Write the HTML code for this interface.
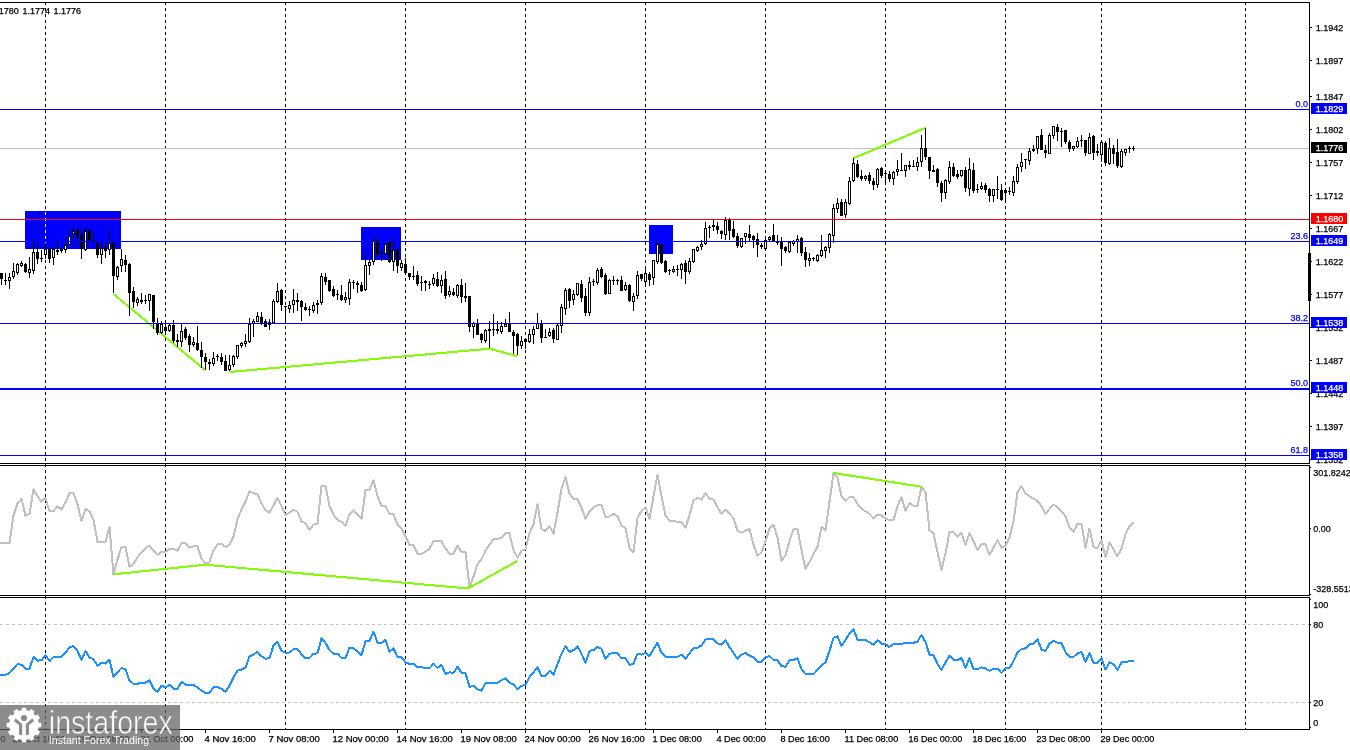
<!DOCTYPE html>
<html><head><meta charset="utf-8"><title>EURUSD H4</title>
<style>html,body{margin:0;padding:0;background:#fff;overflow:hidden}svg{display:block}text{font-family:"Liberation Sans",sans-serif;font-size:9px;fill:#000;stroke:#000;stroke-width:0.25px}.w{fill:#fff;stroke:#fff}.bl{fill:#00f;stroke:#00f}</style></head><body>
<svg width="1350" height="750" viewBox="0 0 1350 750">
<rect width="1350" height="750" fill="#fff"/>
<g shape-rendering="crispEdges">
<rect x="25" y="211" width="96" height="38" fill="#0000ff"/>
<rect x="361" y="227" width="40" height="33" fill="#0000ff"/>
<rect x="649" y="225" width="24" height="29" fill="#0000ff"/>
<line x1="45.5" y1="2" x2="45.5" y2="729" stroke="#000" stroke-width="1" stroke-dasharray="3 3"/>
<line x1="165.5" y1="2" x2="165.5" y2="729" stroke="#000" stroke-width="1" stroke-dasharray="3 3"/>
<line x1="285.5" y1="2" x2="285.5" y2="729" stroke="#000" stroke-width="1" stroke-dasharray="3 3"/>
<line x1="405.5" y1="2" x2="405.5" y2="729" stroke="#000" stroke-width="1" stroke-dasharray="3 3"/>
<line x1="525.5" y1="2" x2="525.5" y2="729" stroke="#000" stroke-width="1" stroke-dasharray="3 3"/>
<line x1="645.5" y1="2" x2="645.5" y2="729" stroke="#000" stroke-width="1" stroke-dasharray="3 3"/>
<line x1="765.5" y1="2" x2="765.5" y2="729" stroke="#000" stroke-width="1" stroke-dasharray="3 3"/>
<line x1="885.5" y1="2" x2="885.5" y2="729" stroke="#000" stroke-width="1" stroke-dasharray="3 3"/>
<line x1="1005.5" y1="2" x2="1005.5" y2="729" stroke="#000" stroke-width="1" stroke-dasharray="3 3"/>
<line x1="1101.5" y1="2" x2="1101.5" y2="729" stroke="#000" stroke-width="1" stroke-dasharray="3 3"/>
<line x1="1245.5" y1="2" x2="1245.5" y2="729" stroke="#000" stroke-width="1" stroke-dasharray="3 3"/>
<rect x="45" y="212" width="1" height="1" fill="#ffff00"/>
<rect x="45" y="213" width="1" height="1" fill="#ffff00"/>
<rect x="45" y="214" width="1" height="1" fill="#ffff00"/>
<rect x="45" y="218" width="1" height="1" fill="#ffff00"/>
<rect x="45" y="219" width="1" height="1" fill="#ffff00"/>
<rect x="45" y="220" width="1" height="1" fill="#ffff00"/>
<rect x="45" y="224" width="1" height="1" fill="#ffff00"/>
<rect x="45" y="225" width="1" height="1" fill="#ffff00"/>
<rect x="45" y="226" width="1" height="1" fill="#ffff00"/>
<rect x="45" y="230" width="1" height="1" fill="#ffff00"/>
<rect x="45" y="231" width="1" height="1" fill="#ffff00"/>
<rect x="45" y="232" width="1" height="1" fill="#ffff00"/>
<rect x="45" y="236" width="1" height="1" fill="#ffff00"/>
<rect x="45" y="237" width="1" height="1" fill="#ffff00"/>
<rect x="45" y="238" width="1" height="1" fill="#ffff00"/>
<rect x="45" y="242" width="1" height="1" fill="#ffff00"/>
<rect x="45" y="243" width="1" height="1" fill="#ffff00"/>
<rect x="45" y="244" width="1" height="1" fill="#ffff00"/>
<rect x="45" y="248" width="1" height="1" fill="#ffff00"/>
<line x1="0" y1="624.5" x2="1309" y2="624.5" stroke="#c0c0c0" stroke-width="1" stroke-dasharray="3 3"/>
<line x1="0" y1="702.5" x2="1309" y2="702.5" stroke="#c0c0c0" stroke-width="1" stroke-dasharray="3 3"/>
<rect x="0" y="148" width="1309" height="1" fill="#c0c0c0"/>
</g>
<polyline points="113.5,294 205,370" fill="none" stroke="#7fff00" stroke-width="2" shape-rendering="crispEdges"/>
<polyline points="229.5,372 489.5,348.7 517.5,356.3" fill="none" stroke="#7fff00" stroke-width="2" shape-rendering="crispEdges"/>
<polyline points="853.4,158.3 925.7,127.7" fill="none" stroke="#7fff00" stroke-width="2" shape-rendering="crispEdges"/>
<g shape-rendering="crispEdges">
<rect x="1" y="273" width="1" height="12" fill="#000"/>
<rect x="0" y="273" width="3" height="6" fill="#000"/>
<rect x="5" y="273" width="1" height="12" fill="#000"/>
<rect x="4" y="280" width="3" height="1" fill="#000"/>
<rect x="9" y="273" width="1" height="16" fill="#000"/>
<rect x="8" y="277" width="3" height="4" fill="#000"/>
<rect x="9" y="278" width="1" height="2" fill="#fff"/>
<rect x="13" y="263" width="1" height="16" fill="#000"/>
<rect x="12" y="271" width="3" height="6" fill="#000"/>
<rect x="13" y="272" width="1" height="4" fill="#fff"/>
<rect x="17" y="263" width="1" height="12" fill="#000"/>
<rect x="16" y="264" width="3" height="9" fill="#000"/>
<rect x="17" y="265" width="1" height="7" fill="#fff"/>
<rect x="21" y="261" width="1" height="6" fill="#000"/>
<rect x="20" y="263" width="3" height="3" fill="#000"/>
<rect x="21" y="264" width="1" height="1" fill="#fff"/>
<rect x="25" y="263" width="1" height="10" fill="#000"/>
<rect x="24" y="264" width="3" height="8" fill="#000"/>
<rect x="29" y="257" width="1" height="21" fill="#000"/>
<rect x="28" y="269" width="3" height="4" fill="#000"/>
<rect x="29" y="270" width="1" height="2" fill="#fff"/>
<rect x="33" y="238" width="1" height="36" fill="#000"/>
<rect x="32" y="252" width="3" height="19" fill="#000"/>
<rect x="33" y="253" width="1" height="17" fill="#fff"/>
<rect x="37" y="245" width="1" height="19" fill="#000"/>
<rect x="36" y="252" width="3" height="7" fill="#000"/>
<rect x="41" y="250" width="1" height="12" fill="#000"/>
<rect x="40" y="258" width="3" height="1" fill="#000"/>
<rect x="45" y="243" width="1" height="16" fill="#000"/>
<rect x="44" y="249" width="3" height="6" fill="#000"/>
<rect x="45" y="250" width="1" height="4" fill="#fff"/>
<rect x="49" y="248" width="1" height="15" fill="#000"/>
<rect x="48" y="249" width="3" height="10" fill="#000"/>
<rect x="53" y="247" width="1" height="18" fill="#000"/>
<rect x="52" y="249" width="3" height="9" fill="#000"/>
<rect x="53" y="250" width="1" height="7" fill="#fff"/>
<rect x="57" y="239" width="1" height="16" fill="#000"/>
<rect x="56" y="250" width="3" height="2" fill="#000"/>
<rect x="61" y="246" width="1" height="7" fill="#000"/>
<rect x="60" y="249" width="3" height="2" fill="#000"/>
<rect x="65" y="239" width="1" height="14" fill="#000"/>
<rect x="64" y="245" width="3" height="5" fill="#000"/>
<rect x="65" y="246" width="1" height="3" fill="#fff"/>
<rect x="69" y="230" width="1" height="15" fill="#000"/>
<rect x="68" y="236" width="3" height="9" fill="#000"/>
<rect x="69" y="237" width="1" height="7" fill="#fff"/>
<rect x="73" y="227" width="1" height="12" fill="#000"/>
<rect x="72" y="231" width="3" height="3" fill="#000"/>
<rect x="73" y="232" width="1" height="1" fill="#fff"/>
<rect x="77" y="228" width="1" height="17" fill="#000"/>
<rect x="76" y="230" width="3" height="7" fill="#000"/>
<rect x="81" y="229" width="1" height="30" fill="#000"/>
<rect x="80" y="235" width="3" height="14" fill="#000"/>
<rect x="85" y="227" width="1" height="24" fill="#000"/>
<rect x="84" y="231" width="3" height="19" fill="#000"/>
<rect x="85" y="232" width="1" height="17" fill="#fff"/>
<rect x="89" y="229" width="1" height="12" fill="#000"/>
<rect x="88" y="230" width="3" height="10" fill="#000"/>
<rect x="93" y="233" width="1" height="10" fill="#000"/>
<rect x="92" y="240" width="3" height="1" fill="#000"/>
<rect x="97" y="242" width="1" height="16" fill="#000"/>
<rect x="96" y="243" width="3" height="12" fill="#000"/>
<rect x="101" y="242" width="1" height="22" fill="#000"/>
<rect x="100" y="248" width="3" height="7" fill="#000"/>
<rect x="101" y="249" width="1" height="5" fill="#fff"/>
<rect x="105" y="242" width="1" height="16" fill="#000"/>
<rect x="104" y="247" width="3" height="4" fill="#000"/>
<rect x="109" y="229" width="1" height="26" fill="#000"/>
<rect x="108" y="243" width="3" height="7" fill="#000"/>
<rect x="109" y="244" width="1" height="5" fill="#fff"/>
<rect x="113" y="240" width="1" height="53" fill="#000"/>
<rect x="112" y="243" width="3" height="33" fill="#000"/>
<rect x="117" y="266" width="1" height="14" fill="#000"/>
<rect x="116" y="267" width="3" height="10" fill="#000"/>
<rect x="117" y="268" width="1" height="8" fill="#fff"/>
<rect x="121" y="249" width="1" height="23" fill="#000"/>
<rect x="120" y="259" width="3" height="7" fill="#000"/>
<rect x="121" y="260" width="1" height="5" fill="#fff"/>
<rect x="125" y="255" width="1" height="17" fill="#000"/>
<rect x="124" y="260" width="3" height="5" fill="#000"/>
<rect x="129" y="263" width="1" height="53" fill="#000"/>
<rect x="128" y="264" width="3" height="29" fill="#000"/>
<rect x="133" y="287" width="1" height="21" fill="#000"/>
<rect x="132" y="291" width="3" height="11" fill="#000"/>
<rect x="137" y="297" width="1" height="9" fill="#000"/>
<rect x="136" y="299" width="3" height="4" fill="#000"/>
<rect x="137" y="300" width="1" height="2" fill="#fff"/>
<rect x="141" y="293" width="1" height="11" fill="#000"/>
<rect x="140" y="300" width="3" height="2" fill="#000"/>
<rect x="145" y="295" width="1" height="9" fill="#000"/>
<rect x="144" y="300" width="3" height="1" fill="#000"/>
<rect x="149" y="294" width="1" height="17" fill="#000"/>
<rect x="148" y="294" width="3" height="7" fill="#000"/>
<rect x="149" y="295" width="1" height="5" fill="#fff"/>
<rect x="153" y="295" width="1" height="34" fill="#000"/>
<rect x="152" y="295" width="3" height="27" fill="#000"/>
<rect x="157" y="318" width="1" height="17" fill="#000"/>
<rect x="156" y="323" width="3" height="10" fill="#000"/>
<rect x="161" y="321" width="1" height="13" fill="#000"/>
<rect x="160" y="324" width="3" height="9" fill="#000"/>
<rect x="161" y="325" width="1" height="7" fill="#fff"/>
<rect x="165" y="321" width="1" height="14" fill="#000"/>
<rect x="164" y="327" width="3" height="4" fill="#000"/>
<rect x="169" y="324" width="1" height="8" fill="#000"/>
<rect x="168" y="325" width="3" height="6" fill="#000"/>
<rect x="169" y="326" width="1" height="4" fill="#fff"/>
<rect x="173" y="320" width="1" height="23" fill="#000"/>
<rect x="172" y="325" width="3" height="16" fill="#000"/>
<rect x="177" y="334" width="1" height="13" fill="#000"/>
<rect x="176" y="340" width="3" height="2" fill="#000"/>
<rect x="181" y="324" width="1" height="23" fill="#000"/>
<rect x="180" y="331" width="3" height="11" fill="#000"/>
<rect x="181" y="332" width="1" height="9" fill="#fff"/>
<rect x="185" y="327" width="1" height="13" fill="#000"/>
<rect x="184" y="329" width="3" height="9" fill="#000"/>
<rect x="189" y="334" width="1" height="18" fill="#000"/>
<rect x="188" y="336" width="3" height="9" fill="#000"/>
<rect x="193" y="337" width="1" height="10" fill="#000"/>
<rect x="192" y="342" width="3" height="3" fill="#000"/>
<rect x="193" y="343" width="1" height="1" fill="#fff"/>
<rect x="197" y="326" width="1" height="25" fill="#000"/>
<rect x="196" y="343" width="3" height="7" fill="#000"/>
<rect x="201" y="342" width="1" height="26" fill="#000"/>
<rect x="200" y="350" width="3" height="7" fill="#000"/>
<rect x="205" y="353" width="1" height="17" fill="#000"/>
<rect x="204" y="357" width="3" height="5" fill="#000"/>
<rect x="209" y="359" width="1" height="11" fill="#000"/>
<rect x="208" y="362" width="3" height="2" fill="#000"/>
<rect x="213" y="352" width="1" height="14" fill="#000"/>
<rect x="212" y="358" width="3" height="6" fill="#000"/>
<rect x="213" y="359" width="1" height="4" fill="#fff"/>
<rect x="217" y="354" width="1" height="7" fill="#000"/>
<rect x="216" y="356" width="3" height="1" fill="#000"/>
<rect x="221" y="353" width="1" height="12" fill="#000"/>
<rect x="220" y="357" width="3" height="5" fill="#000"/>
<rect x="225" y="355" width="1" height="16" fill="#000"/>
<rect x="224" y="361" width="3" height="10" fill="#000"/>
<rect x="229" y="355" width="1" height="16" fill="#000"/>
<rect x="228" y="365" width="3" height="5" fill="#000"/>
<rect x="229" y="366" width="1" height="3" fill="#fff"/>
<rect x="233" y="355" width="1" height="12" fill="#000"/>
<rect x="232" y="356" width="3" height="9" fill="#000"/>
<rect x="233" y="357" width="1" height="7" fill="#fff"/>
<rect x="237" y="345" width="1" height="14" fill="#000"/>
<rect x="236" y="345" width="3" height="12" fill="#000"/>
<rect x="237" y="346" width="1" height="10" fill="#fff"/>
<rect x="241" y="342" width="1" height="6" fill="#000"/>
<rect x="240" y="343" width="3" height="3" fill="#000"/>
<rect x="241" y="344" width="1" height="1" fill="#fff"/>
<rect x="245" y="334" width="1" height="13" fill="#000"/>
<rect x="244" y="341" width="3" height="3" fill="#000"/>
<rect x="245" y="342" width="1" height="1" fill="#fff"/>
<rect x="249" y="318" width="1" height="25" fill="#000"/>
<rect x="248" y="324" width="3" height="18" fill="#000"/>
<rect x="249" y="325" width="1" height="16" fill="#fff"/>
<rect x="253" y="319" width="1" height="18" fill="#000"/>
<rect x="252" y="321" width="3" height="3" fill="#000"/>
<rect x="253" y="322" width="1" height="1" fill="#fff"/>
<rect x="257" y="312" width="1" height="10" fill="#000"/>
<rect x="256" y="316" width="3" height="6" fill="#000"/>
<rect x="257" y="317" width="1" height="4" fill="#fff"/>
<rect x="261" y="312" width="1" height="13" fill="#000"/>
<rect x="260" y="317" width="3" height="7" fill="#000"/>
<rect x="265" y="319" width="1" height="8" fill="#000"/>
<rect x="264" y="321" width="3" height="6" fill="#000"/>
<rect x="269" y="319" width="1" height="11" fill="#000"/>
<rect x="268" y="322" width="3" height="3" fill="#000"/>
<rect x="269" y="323" width="1" height="1" fill="#fff"/>
<rect x="273" y="299" width="1" height="25" fill="#000"/>
<rect x="272" y="301" width="3" height="22" fill="#000"/>
<rect x="273" y="302" width="1" height="20" fill="#fff"/>
<rect x="277" y="283" width="1" height="20" fill="#000"/>
<rect x="276" y="291" width="3" height="11" fill="#000"/>
<rect x="277" y="292" width="1" height="9" fill="#fff"/>
<rect x="281" y="289" width="1" height="22" fill="#000"/>
<rect x="280" y="290" width="3" height="15" fill="#000"/>
<rect x="285" y="306" width="1" height="17" fill="#000"/>
<rect x="284" y="306" width="3" height="1" fill="#000"/>
<rect x="289" y="301" width="1" height="12" fill="#000"/>
<rect x="288" y="305" width="3" height="4" fill="#000"/>
<rect x="289" y="306" width="1" height="2" fill="#fff"/>
<rect x="293" y="289" width="1" height="24" fill="#000"/>
<rect x="292" y="300" width="3" height="5" fill="#000"/>
<rect x="293" y="301" width="1" height="3" fill="#fff"/>
<rect x="297" y="293" width="1" height="18" fill="#000"/>
<rect x="296" y="300" width="3" height="2" fill="#000"/>
<rect x="301" y="300" width="1" height="21" fill="#000"/>
<rect x="300" y="301" width="3" height="6" fill="#000"/>
<rect x="305" y="303" width="1" height="8" fill="#000"/>
<rect x="304" y="307" width="3" height="3" fill="#000"/>
<rect x="309" y="306" width="1" height="10" fill="#000"/>
<rect x="308" y="309" width="3" height="1" fill="#000"/>
<rect x="313" y="302" width="1" height="11" fill="#000"/>
<rect x="312" y="305" width="3" height="6" fill="#000"/>
<rect x="313" y="306" width="1" height="4" fill="#fff"/>
<rect x="317" y="300" width="1" height="14" fill="#000"/>
<rect x="316" y="303" width="3" height="2" fill="#000"/>
<rect x="321" y="273" width="1" height="32" fill="#000"/>
<rect x="320" y="276" width="3" height="27" fill="#000"/>
<rect x="321" y="277" width="1" height="25" fill="#fff"/>
<rect x="325" y="273" width="1" height="12" fill="#000"/>
<rect x="324" y="277" width="3" height="5" fill="#000"/>
<rect x="329" y="280" width="1" height="12" fill="#000"/>
<rect x="328" y="280" width="3" height="11" fill="#000"/>
<rect x="333" y="286" width="1" height="11" fill="#000"/>
<rect x="332" y="289" width="3" height="7" fill="#000"/>
<rect x="337" y="290" width="1" height="10" fill="#000"/>
<rect x="336" y="294" width="3" height="1" fill="#000"/>
<rect x="341" y="285" width="1" height="16" fill="#000"/>
<rect x="340" y="295" width="3" height="5" fill="#000"/>
<rect x="345" y="292" width="1" height="11" fill="#000"/>
<rect x="344" y="297" width="3" height="3" fill="#000"/>
<rect x="345" y="298" width="1" height="1" fill="#fff"/>
<rect x="349" y="279" width="1" height="26" fill="#000"/>
<rect x="348" y="282" width="3" height="17" fill="#000"/>
<rect x="349" y="283" width="1" height="15" fill="#fff"/>
<rect x="353" y="280" width="1" height="9" fill="#000"/>
<rect x="352" y="282" width="3" height="1" fill="#000"/>
<rect x="357" y="281" width="1" height="12" fill="#000"/>
<rect x="356" y="283" width="3" height="2" fill="#000"/>
<rect x="361" y="282" width="1" height="10" fill="#000"/>
<rect x="360" y="285" width="3" height="6" fill="#000"/>
<rect x="365" y="252" width="1" height="39" fill="#000"/>
<rect x="364" y="265" width="3" height="25" fill="#000"/>
<rect x="365" y="266" width="1" height="23" fill="#fff"/>
<rect x="369" y="260" width="1" height="15" fill="#000"/>
<rect x="368" y="262" width="3" height="4" fill="#000"/>
<rect x="369" y="263" width="1" height="2" fill="#fff"/>
<rect x="373" y="236" width="1" height="29" fill="#000"/>
<rect x="372" y="240" width="3" height="22" fill="#000"/>
<rect x="373" y="241" width="1" height="20" fill="#fff"/>
<rect x="377" y="239" width="1" height="17" fill="#000"/>
<rect x="376" y="240" width="3" height="14" fill="#000"/>
<rect x="381" y="249" width="1" height="12" fill="#000"/>
<rect x="380" y="252" width="3" height="1" fill="#000"/>
<rect x="385" y="242" width="1" height="13" fill="#000"/>
<rect x="384" y="244" width="3" height="10" fill="#000"/>
<rect x="385" y="245" width="1" height="8" fill="#fff"/>
<rect x="389" y="242" width="1" height="21" fill="#000"/>
<rect x="388" y="242" width="3" height="20" fill="#000"/>
<rect x="393" y="238" width="1" height="33" fill="#000"/>
<rect x="392" y="250" width="3" height="12" fill="#000"/>
<rect x="393" y="251" width="1" height="10" fill="#fff"/>
<rect x="397" y="249" width="1" height="24" fill="#000"/>
<rect x="396" y="249" width="3" height="17" fill="#000"/>
<rect x="401" y="260" width="1" height="11" fill="#000"/>
<rect x="400" y="263" width="3" height="5" fill="#000"/>
<rect x="401" y="264" width="1" height="3" fill="#fff"/>
<rect x="405" y="258" width="1" height="17" fill="#000"/>
<rect x="404" y="264" width="3" height="9" fill="#000"/>
<rect x="409" y="273" width="1" height="7" fill="#000"/>
<rect x="408" y="273" width="3" height="4" fill="#000"/>
<rect x="413" y="266" width="1" height="14" fill="#000"/>
<rect x="412" y="276" width="3" height="1" fill="#000"/>
<rect x="417" y="271" width="1" height="15" fill="#000"/>
<rect x="416" y="275" width="3" height="9" fill="#000"/>
<rect x="421" y="276" width="1" height="15" fill="#000"/>
<rect x="420" y="282" width="3" height="1" fill="#000"/>
<rect x="425" y="280" width="1" height="11" fill="#000"/>
<rect x="424" y="281" width="3" height="2" fill="#000"/>
<rect x="429" y="281" width="1" height="8" fill="#000"/>
<rect x="428" y="284" width="3" height="1" fill="#000"/>
<rect x="433" y="274" width="1" height="12" fill="#000"/>
<rect x="432" y="278" width="3" height="6" fill="#000"/>
<rect x="433" y="279" width="1" height="4" fill="#fff"/>
<rect x="437" y="272" width="1" height="15" fill="#000"/>
<rect x="436" y="279" width="3" height="7" fill="#000"/>
<rect x="441" y="275" width="1" height="18" fill="#000"/>
<rect x="440" y="280" width="3" height="6" fill="#000"/>
<rect x="441" y="281" width="1" height="4" fill="#fff"/>
<rect x="445" y="271" width="1" height="28" fill="#000"/>
<rect x="444" y="279" width="3" height="17" fill="#000"/>
<rect x="449" y="286" width="1" height="11" fill="#000"/>
<rect x="448" y="291" width="3" height="4" fill="#000"/>
<rect x="449" y="292" width="1" height="2" fill="#fff"/>
<rect x="453" y="288" width="1" height="8" fill="#000"/>
<rect x="452" y="292" width="3" height="3" fill="#000"/>
<rect x="457" y="284" width="1" height="14" fill="#000"/>
<rect x="456" y="285" width="3" height="11" fill="#000"/>
<rect x="457" y="286" width="1" height="9" fill="#fff"/>
<rect x="461" y="279" width="1" height="24" fill="#000"/>
<rect x="460" y="285" width="3" height="12" fill="#000"/>
<rect x="465" y="283" width="1" height="19" fill="#000"/>
<rect x="464" y="296" width="3" height="2" fill="#000"/>
<rect x="469" y="296" width="1" height="36" fill="#000"/>
<rect x="468" y="296" width="3" height="31" fill="#000"/>
<rect x="473" y="322" width="1" height="16" fill="#000"/>
<rect x="472" y="323" width="3" height="4" fill="#000"/>
<rect x="473" y="324" width="1" height="2" fill="#fff"/>
<rect x="477" y="319" width="1" height="16" fill="#000"/>
<rect x="476" y="324" width="3" height="11" fill="#000"/>
<rect x="481" y="333" width="1" height="10" fill="#000"/>
<rect x="480" y="334" width="3" height="6" fill="#000"/>
<rect x="485" y="329" width="1" height="14" fill="#000"/>
<rect x="484" y="330" width="3" height="11" fill="#000"/>
<rect x="485" y="331" width="1" height="9" fill="#fff"/>
<rect x="489" y="321" width="1" height="27" fill="#000"/>
<rect x="488" y="329" width="3" height="2" fill="#000"/>
<rect x="493" y="314" width="1" height="22" fill="#000"/>
<rect x="492" y="329" width="3" height="1" fill="#000"/>
<rect x="497" y="321" width="1" height="13" fill="#000"/>
<rect x="496" y="329" width="3" height="2" fill="#000"/>
<rect x="501" y="322" width="1" height="12" fill="#000"/>
<rect x="500" y="326" width="3" height="6" fill="#000"/>
<rect x="501" y="327" width="1" height="4" fill="#fff"/>
<rect x="505" y="319" width="1" height="8" fill="#000"/>
<rect x="504" y="324" width="3" height="3" fill="#000"/>
<rect x="505" y="325" width="1" height="1" fill="#fff"/>
<rect x="509" y="312" width="1" height="20" fill="#000"/>
<rect x="508" y="324" width="3" height="8" fill="#000"/>
<rect x="513" y="330" width="1" height="24" fill="#000"/>
<rect x="512" y="332" width="3" height="4" fill="#000"/>
<rect x="517" y="333" width="1" height="22" fill="#000"/>
<rect x="516" y="334" width="3" height="12" fill="#000"/>
<rect x="521" y="336" width="1" height="13" fill="#000"/>
<rect x="520" y="341" width="3" height="5" fill="#000"/>
<rect x="521" y="342" width="1" height="3" fill="#fff"/>
<rect x="525" y="338" width="1" height="11" fill="#000"/>
<rect x="524" y="339" width="3" height="3" fill="#000"/>
<rect x="529" y="329" width="1" height="14" fill="#000"/>
<rect x="528" y="334" width="3" height="8" fill="#000"/>
<rect x="529" y="335" width="1" height="6" fill="#fff"/>
<rect x="533" y="326" width="1" height="18" fill="#000"/>
<rect x="532" y="329" width="3" height="6" fill="#000"/>
<rect x="533" y="330" width="1" height="4" fill="#fff"/>
<rect x="537" y="313" width="1" height="16" fill="#000"/>
<rect x="536" y="323" width="3" height="6" fill="#000"/>
<rect x="537" y="324" width="1" height="4" fill="#fff"/>
<rect x="541" y="320" width="1" height="23" fill="#000"/>
<rect x="540" y="323" width="3" height="15" fill="#000"/>
<rect x="545" y="329" width="1" height="9" fill="#000"/>
<rect x="544" y="337" width="3" height="1" fill="#000"/>
<rect x="549" y="328" width="1" height="9" fill="#000"/>
<rect x="548" y="332" width="3" height="4" fill="#000"/>
<rect x="549" y="333" width="1" height="2" fill="#fff"/>
<rect x="553" y="328" width="1" height="15" fill="#000"/>
<rect x="552" y="330" width="3" height="9" fill="#000"/>
<rect x="557" y="324" width="1" height="16" fill="#000"/>
<rect x="556" y="325" width="3" height="15" fill="#000"/>
<rect x="557" y="326" width="1" height="13" fill="#fff"/>
<rect x="561" y="304" width="1" height="29" fill="#000"/>
<rect x="560" y="307" width="3" height="19" fill="#000"/>
<rect x="561" y="308" width="1" height="17" fill="#fff"/>
<rect x="565" y="288" width="1" height="27" fill="#000"/>
<rect x="564" y="290" width="3" height="19" fill="#000"/>
<rect x="565" y="291" width="1" height="17" fill="#fff"/>
<rect x="569" y="288" width="1" height="20" fill="#000"/>
<rect x="568" y="289" width="3" height="12" fill="#000"/>
<rect x="573" y="290" width="1" height="15" fill="#000"/>
<rect x="572" y="294" width="3" height="6" fill="#000"/>
<rect x="573" y="295" width="1" height="4" fill="#fff"/>
<rect x="577" y="283" width="1" height="13" fill="#000"/>
<rect x="576" y="283" width="3" height="12" fill="#000"/>
<rect x="577" y="284" width="1" height="10" fill="#fff"/>
<rect x="581" y="280" width="1" height="22" fill="#000"/>
<rect x="580" y="284" width="3" height="14" fill="#000"/>
<rect x="585" y="288" width="1" height="28" fill="#000"/>
<rect x="584" y="296" width="3" height="17" fill="#000"/>
<rect x="589" y="277" width="1" height="39" fill="#000"/>
<rect x="588" y="282" width="3" height="31" fill="#000"/>
<rect x="589" y="283" width="1" height="29" fill="#fff"/>
<rect x="593" y="279" width="1" height="7" fill="#000"/>
<rect x="592" y="281" width="3" height="1" fill="#000"/>
<rect x="597" y="268" width="1" height="17" fill="#000"/>
<rect x="596" y="270" width="3" height="13" fill="#000"/>
<rect x="597" y="271" width="1" height="11" fill="#fff"/>
<rect x="601" y="267" width="1" height="11" fill="#000"/>
<rect x="600" y="269" width="3" height="8" fill="#000"/>
<rect x="605" y="273" width="1" height="22" fill="#000"/>
<rect x="604" y="275" width="3" height="19" fill="#000"/>
<rect x="609" y="279" width="1" height="15" fill="#000"/>
<rect x="608" y="280" width="3" height="14" fill="#000"/>
<rect x="609" y="281" width="1" height="12" fill="#fff"/>
<rect x="613" y="276" width="1" height="9" fill="#000"/>
<rect x="612" y="280" width="3" height="1" fill="#000"/>
<rect x="617" y="279" width="1" height="6" fill="#000"/>
<rect x="616" y="280" width="3" height="1" fill="#000"/>
<rect x="621" y="276" width="1" height="15" fill="#000"/>
<rect x="620" y="280" width="3" height="11" fill="#000"/>
<rect x="625" y="282" width="1" height="9" fill="#000"/>
<rect x="624" y="285" width="3" height="5" fill="#000"/>
<rect x="625" y="286" width="1" height="3" fill="#fff"/>
<rect x="629" y="284" width="1" height="18" fill="#000"/>
<rect x="628" y="285" width="3" height="16" fill="#000"/>
<rect x="633" y="293" width="1" height="18" fill="#000"/>
<rect x="632" y="296" width="3" height="6" fill="#000"/>
<rect x="633" y="297" width="1" height="4" fill="#fff"/>
<rect x="637" y="271" width="1" height="28" fill="#000"/>
<rect x="636" y="275" width="3" height="21" fill="#000"/>
<rect x="637" y="276" width="1" height="19" fill="#fff"/>
<rect x="641" y="274" width="1" height="7" fill="#000"/>
<rect x="640" y="274" width="3" height="5" fill="#000"/>
<rect x="645" y="266" width="1" height="20" fill="#000"/>
<rect x="644" y="273" width="3" height="9" fill="#000"/>
<rect x="645" y="274" width="1" height="7" fill="#fff"/>
<rect x="649" y="272" width="1" height="14" fill="#000"/>
<rect x="648" y="274" width="3" height="6" fill="#000"/>
<rect x="653" y="260" width="1" height="25" fill="#000"/>
<rect x="652" y="260" width="3" height="18" fill="#000"/>
<rect x="653" y="261" width="1" height="16" fill="#fff"/>
<rect x="657" y="239" width="1" height="25" fill="#000"/>
<rect x="656" y="244" width="3" height="18" fill="#000"/>
<rect x="657" y="245" width="1" height="16" fill="#fff"/>
<rect x="661" y="244" width="1" height="20" fill="#000"/>
<rect x="660" y="244" width="3" height="19" fill="#000"/>
<rect x="665" y="260" width="1" height="13" fill="#000"/>
<rect x="664" y="261" width="3" height="11" fill="#000"/>
<rect x="669" y="269" width="1" height="6" fill="#000"/>
<rect x="668" y="270" width="3" height="1" fill="#000"/>
<rect x="673" y="266" width="1" height="7" fill="#000"/>
<rect x="672" y="269" width="3" height="3" fill="#000"/>
<rect x="673" y="270" width="1" height="1" fill="#fff"/>
<rect x="677" y="265" width="1" height="11" fill="#000"/>
<rect x="676" y="269" width="3" height="1" fill="#000"/>
<rect x="681" y="263" width="1" height="16" fill="#000"/>
<rect x="680" y="264" width="3" height="6" fill="#000"/>
<rect x="681" y="265" width="1" height="4" fill="#fff"/>
<rect x="685" y="260" width="1" height="24" fill="#000"/>
<rect x="684" y="263" width="3" height="9" fill="#000"/>
<rect x="689" y="258" width="1" height="16" fill="#000"/>
<rect x="688" y="261" width="3" height="11" fill="#000"/>
<rect x="689" y="262" width="1" height="9" fill="#fff"/>
<rect x="693" y="249" width="1" height="14" fill="#000"/>
<rect x="692" y="249" width="3" height="13" fill="#000"/>
<rect x="693" y="250" width="1" height="11" fill="#fff"/>
<rect x="697" y="246" width="1" height="6" fill="#000"/>
<rect x="696" y="247" width="3" height="4" fill="#000"/>
<rect x="697" y="248" width="1" height="2" fill="#fff"/>
<rect x="701" y="240" width="1" height="10" fill="#000"/>
<rect x="700" y="244" width="3" height="3" fill="#000"/>
<rect x="701" y="245" width="1" height="1" fill="#fff"/>
<rect x="705" y="222" width="1" height="23" fill="#000"/>
<rect x="704" y="228" width="3" height="16" fill="#000"/>
<rect x="705" y="229" width="1" height="14" fill="#fff"/>
<rect x="709" y="225" width="1" height="13" fill="#000"/>
<rect x="708" y="227" width="3" height="1" fill="#000"/>
<rect x="713" y="220" width="1" height="11" fill="#000"/>
<rect x="712" y="225" width="3" height="2" fill="#000"/>
<rect x="717" y="222" width="1" height="12" fill="#000"/>
<rect x="716" y="226" width="3" height="4" fill="#000"/>
<rect x="721" y="230" width="1" height="9" fill="#000"/>
<rect x="720" y="231" width="3" height="3" fill="#000"/>
<rect x="725" y="217" width="1" height="23" fill="#000"/>
<rect x="724" y="220" width="3" height="15" fill="#000"/>
<rect x="725" y="221" width="1" height="13" fill="#fff"/>
<rect x="729" y="218" width="1" height="22" fill="#000"/>
<rect x="728" y="220" width="3" height="11" fill="#000"/>
<rect x="733" y="221" width="1" height="17" fill="#000"/>
<rect x="732" y="229" width="3" height="8" fill="#000"/>
<rect x="737" y="233" width="1" height="15" fill="#000"/>
<rect x="736" y="236" width="3" height="10" fill="#000"/>
<rect x="741" y="238" width="1" height="10" fill="#000"/>
<rect x="740" y="238" width="3" height="9" fill="#000"/>
<rect x="741" y="239" width="1" height="7" fill="#fff"/>
<rect x="745" y="233" width="1" height="11" fill="#000"/>
<rect x="744" y="233" width="3" height="4" fill="#000"/>
<rect x="745" y="234" width="1" height="2" fill="#fff"/>
<rect x="749" y="225" width="1" height="16" fill="#000"/>
<rect x="748" y="234" width="3" height="4" fill="#000"/>
<rect x="753" y="235" width="1" height="13" fill="#000"/>
<rect x="752" y="236" width="3" height="4" fill="#000"/>
<rect x="757" y="233" width="1" height="24" fill="#000"/>
<rect x="756" y="239" width="3" height="6" fill="#000"/>
<rect x="761" y="243" width="1" height="6" fill="#000"/>
<rect x="760" y="245" width="3" height="2" fill="#000"/>
<rect x="765" y="236" width="1" height="15" fill="#000"/>
<rect x="764" y="240" width="3" height="9" fill="#000"/>
<rect x="765" y="241" width="1" height="7" fill="#fff"/>
<rect x="769" y="236" width="1" height="5" fill="#000"/>
<rect x="768" y="237" width="3" height="3" fill="#000"/>
<rect x="769" y="238" width="1" height="1" fill="#fff"/>
<rect x="773" y="224" width="1" height="17" fill="#000"/>
<rect x="772" y="235" width="3" height="6" fill="#000"/>
<rect x="777" y="235" width="1" height="10" fill="#000"/>
<rect x="776" y="241" width="3" height="2" fill="#000"/>
<rect x="781" y="237" width="1" height="29" fill="#000"/>
<rect x="780" y="242" width="3" height="7" fill="#000"/>
<rect x="785" y="246" width="1" height="7" fill="#000"/>
<rect x="784" y="247" width="3" height="4" fill="#000"/>
<rect x="789" y="242" width="1" height="11" fill="#000"/>
<rect x="788" y="242" width="3" height="10" fill="#000"/>
<rect x="789" y="243" width="1" height="8" fill="#fff"/>
<rect x="793" y="240" width="1" height="6" fill="#000"/>
<rect x="792" y="241" width="3" height="3" fill="#000"/>
<rect x="793" y="242" width="1" height="1" fill="#fff"/>
<rect x="797" y="235" width="1" height="18" fill="#000"/>
<rect x="796" y="239" width="3" height="3" fill="#000"/>
<rect x="797" y="240" width="1" height="1" fill="#fff"/>
<rect x="801" y="237" width="1" height="19" fill="#000"/>
<rect x="800" y="238" width="3" height="15" fill="#000"/>
<rect x="805" y="247" width="1" height="20" fill="#000"/>
<rect x="804" y="252" width="3" height="8" fill="#000"/>
<rect x="809" y="253" width="1" height="13" fill="#000"/>
<rect x="808" y="258" width="3" height="3" fill="#000"/>
<rect x="809" y="259" width="1" height="1" fill="#fff"/>
<rect x="813" y="257" width="1" height="4" fill="#000"/>
<rect x="812" y="258" width="3" height="1" fill="#000"/>
<rect x="817" y="254" width="1" height="8" fill="#000"/>
<rect x="816" y="255" width="3" height="6" fill="#000"/>
<rect x="817" y="256" width="1" height="4" fill="#fff"/>
<rect x="821" y="235" width="1" height="22" fill="#000"/>
<rect x="820" y="250" width="3" height="6" fill="#000"/>
<rect x="821" y="251" width="1" height="4" fill="#fff"/>
<rect x="825" y="246" width="1" height="12" fill="#000"/>
<rect x="824" y="247" width="3" height="4" fill="#000"/>
<rect x="825" y="248" width="1" height="2" fill="#fff"/>
<rect x="829" y="233" width="1" height="20" fill="#000"/>
<rect x="828" y="234" width="3" height="14" fill="#000"/>
<rect x="829" y="235" width="1" height="12" fill="#fff"/>
<rect x="833" y="204" width="1" height="39" fill="#000"/>
<rect x="832" y="208" width="3" height="28" fill="#000"/>
<rect x="833" y="209" width="1" height="26" fill="#fff"/>
<rect x="837" y="198" width="1" height="15" fill="#000"/>
<rect x="836" y="203" width="3" height="6" fill="#000"/>
<rect x="837" y="204" width="1" height="4" fill="#fff"/>
<rect x="841" y="199" width="1" height="17" fill="#000"/>
<rect x="840" y="202" width="3" height="14" fill="#000"/>
<rect x="845" y="199" width="1" height="19" fill="#000"/>
<rect x="844" y="202" width="3" height="13" fill="#000"/>
<rect x="845" y="203" width="1" height="11" fill="#fff"/>
<rect x="849" y="177" width="1" height="28" fill="#000"/>
<rect x="848" y="181" width="3" height="23" fill="#000"/>
<rect x="849" y="182" width="1" height="21" fill="#fff"/>
<rect x="853" y="158" width="1" height="24" fill="#000"/>
<rect x="852" y="163" width="3" height="18" fill="#000"/>
<rect x="853" y="164" width="1" height="16" fill="#fff"/>
<rect x="857" y="160" width="1" height="18" fill="#000"/>
<rect x="856" y="164" width="3" height="13" fill="#000"/>
<rect x="861" y="170" width="1" height="11" fill="#000"/>
<rect x="860" y="176" width="3" height="3" fill="#000"/>
<rect x="865" y="175" width="1" height="6" fill="#000"/>
<rect x="864" y="176" width="3" height="3" fill="#000"/>
<rect x="865" y="177" width="1" height="1" fill="#fff"/>
<rect x="869" y="172" width="1" height="12" fill="#000"/>
<rect x="868" y="175" width="3" height="6" fill="#000"/>
<rect x="873" y="178" width="1" height="12" fill="#000"/>
<rect x="872" y="181" width="3" height="4" fill="#000"/>
<rect x="877" y="168" width="1" height="20" fill="#000"/>
<rect x="876" y="169" width="3" height="16" fill="#000"/>
<rect x="877" y="170" width="1" height="14" fill="#fff"/>
<rect x="881" y="167" width="1" height="11" fill="#000"/>
<rect x="880" y="168" width="3" height="8" fill="#000"/>
<rect x="885" y="170" width="1" height="15" fill="#000"/>
<rect x="884" y="173" width="3" height="1" fill="#000"/>
<rect x="889" y="171" width="1" height="11" fill="#000"/>
<rect x="888" y="174" width="3" height="5" fill="#000"/>
<rect x="893" y="171" width="1" height="14" fill="#000"/>
<rect x="892" y="172" width="3" height="7" fill="#000"/>
<rect x="893" y="173" width="1" height="5" fill="#fff"/>
<rect x="897" y="160" width="1" height="16" fill="#000"/>
<rect x="896" y="169" width="3" height="3" fill="#000"/>
<rect x="897" y="170" width="1" height="1" fill="#fff"/>
<rect x="901" y="153" width="1" height="18" fill="#000"/>
<rect x="900" y="170" width="3" height="1" fill="#000"/>
<rect x="905" y="165" width="1" height="12" fill="#000"/>
<rect x="904" y="165" width="3" height="6" fill="#000"/>
<rect x="905" y="166" width="1" height="4" fill="#fff"/>
<rect x="909" y="161" width="1" height="9" fill="#000"/>
<rect x="908" y="165" width="3" height="2" fill="#000"/>
<rect x="913" y="160" width="1" height="7" fill="#000"/>
<rect x="912" y="166" width="3" height="1" fill="#000"/>
<rect x="917" y="157" width="1" height="14" fill="#000"/>
<rect x="916" y="162" width="3" height="5" fill="#000"/>
<rect x="917" y="163" width="1" height="3" fill="#fff"/>
<rect x="921" y="135" width="1" height="32" fill="#000"/>
<rect x="920" y="148" width="3" height="14" fill="#000"/>
<rect x="921" y="149" width="1" height="12" fill="#fff"/>
<rect x="925" y="128" width="1" height="32" fill="#000"/>
<rect x="924" y="148" width="3" height="9" fill="#000"/>
<rect x="929" y="157" width="1" height="22" fill="#000"/>
<rect x="928" y="157" width="3" height="14" fill="#000"/>
<rect x="933" y="165" width="1" height="7" fill="#000"/>
<rect x="932" y="170" width="3" height="2" fill="#000"/>
<rect x="937" y="168" width="1" height="19" fill="#000"/>
<rect x="936" y="169" width="3" height="14" fill="#000"/>
<rect x="941" y="181" width="1" height="21" fill="#000"/>
<rect x="940" y="183" width="3" height="10" fill="#000"/>
<rect x="945" y="179" width="1" height="20" fill="#000"/>
<rect x="944" y="180" width="3" height="13" fill="#000"/>
<rect x="945" y="181" width="1" height="11" fill="#fff"/>
<rect x="949" y="161" width="1" height="23" fill="#000"/>
<rect x="948" y="167" width="3" height="15" fill="#000"/>
<rect x="949" y="168" width="1" height="13" fill="#fff"/>
<rect x="953" y="163" width="1" height="14" fill="#000"/>
<rect x="952" y="167" width="3" height="9" fill="#000"/>
<rect x="957" y="170" width="1" height="9" fill="#000"/>
<rect x="956" y="174" width="3" height="3" fill="#000"/>
<rect x="961" y="170" width="1" height="7" fill="#000"/>
<rect x="960" y="170" width="3" height="6" fill="#000"/>
<rect x="961" y="171" width="1" height="4" fill="#fff"/>
<rect x="965" y="167" width="1" height="25" fill="#000"/>
<rect x="964" y="170" width="3" height="18" fill="#000"/>
<rect x="969" y="158" width="1" height="38" fill="#000"/>
<rect x="968" y="169" width="3" height="20" fill="#000"/>
<rect x="969" y="170" width="1" height="18" fill="#fff"/>
<rect x="973" y="163" width="1" height="30" fill="#000"/>
<rect x="972" y="170" width="3" height="21" fill="#000"/>
<rect x="977" y="184" width="1" height="9" fill="#000"/>
<rect x="976" y="189" width="3" height="1" fill="#000"/>
<rect x="981" y="182" width="1" height="8" fill="#000"/>
<rect x="980" y="186" width="3" height="3" fill="#000"/>
<rect x="981" y="187" width="1" height="1" fill="#fff"/>
<rect x="985" y="183" width="1" height="10" fill="#000"/>
<rect x="984" y="185" width="3" height="5" fill="#000"/>
<rect x="989" y="188" width="1" height="14" fill="#000"/>
<rect x="988" y="189" width="3" height="7" fill="#000"/>
<rect x="993" y="189" width="1" height="13" fill="#000"/>
<rect x="992" y="189" width="3" height="7" fill="#000"/>
<rect x="993" y="190" width="1" height="5" fill="#fff"/>
<rect x="997" y="176" width="1" height="23" fill="#000"/>
<rect x="996" y="189" width="3" height="1" fill="#000"/>
<rect x="1001" y="184" width="1" height="17" fill="#000"/>
<rect x="1000" y="190" width="3" height="10" fill="#000"/>
<rect x="1005" y="188" width="1" height="14" fill="#000"/>
<rect x="1004" y="190" width="3" height="3" fill="#000"/>
<rect x="1009" y="187" width="1" height="8" fill="#000"/>
<rect x="1008" y="191" width="3" height="1" fill="#000"/>
<rect x="1013" y="176" width="1" height="20" fill="#000"/>
<rect x="1012" y="181" width="3" height="12" fill="#000"/>
<rect x="1013" y="182" width="1" height="10" fill="#fff"/>
<rect x="1017" y="164" width="1" height="20" fill="#000"/>
<rect x="1016" y="167" width="3" height="15" fill="#000"/>
<rect x="1017" y="168" width="1" height="13" fill="#fff"/>
<rect x="1021" y="153" width="1" height="19" fill="#000"/>
<rect x="1020" y="162" width="3" height="5" fill="#000"/>
<rect x="1021" y="163" width="1" height="3" fill="#fff"/>
<rect x="1025" y="159" width="1" height="10" fill="#000"/>
<rect x="1024" y="159" width="3" height="1" fill="#000"/>
<rect x="1029" y="148" width="1" height="17" fill="#000"/>
<rect x="1028" y="151" width="3" height="10" fill="#000"/>
<rect x="1029" y="152" width="1" height="8" fill="#fff"/>
<rect x="1033" y="145" width="1" height="7" fill="#000"/>
<rect x="1032" y="149" width="3" height="2" fill="#000"/>
<rect x="1037" y="136" width="1" height="18" fill="#000"/>
<rect x="1036" y="136" width="3" height="13" fill="#000"/>
<rect x="1037" y="137" width="1" height="11" fill="#fff"/>
<rect x="1041" y="129" width="1" height="21" fill="#000"/>
<rect x="1040" y="135" width="3" height="15" fill="#000"/>
<rect x="1045" y="145" width="1" height="13" fill="#000"/>
<rect x="1044" y="150" width="3" height="3" fill="#000"/>
<rect x="1049" y="133" width="1" height="21" fill="#000"/>
<rect x="1048" y="135" width="3" height="19" fill="#000"/>
<rect x="1049" y="136" width="1" height="17" fill="#fff"/>
<rect x="1053" y="126" width="1" height="13" fill="#000"/>
<rect x="1052" y="126" width="3" height="10" fill="#000"/>
<rect x="1053" y="127" width="1" height="8" fill="#fff"/>
<rect x="1057" y="124" width="1" height="17" fill="#000"/>
<rect x="1056" y="127" width="3" height="5" fill="#000"/>
<rect x="1061" y="128" width="1" height="19" fill="#000"/>
<rect x="1060" y="131" width="3" height="1" fill="#000"/>
<rect x="1065" y="130" width="1" height="14" fill="#000"/>
<rect x="1064" y="130" width="3" height="12" fill="#000"/>
<rect x="1069" y="140" width="1" height="12" fill="#000"/>
<rect x="1068" y="142" width="3" height="7" fill="#000"/>
<rect x="1073" y="146" width="1" height="5" fill="#000"/>
<rect x="1072" y="146" width="3" height="3" fill="#000"/>
<rect x="1073" y="147" width="1" height="1" fill="#fff"/>
<rect x="1077" y="137" width="1" height="11" fill="#000"/>
<rect x="1076" y="141" width="3" height="6" fill="#000"/>
<rect x="1077" y="142" width="1" height="4" fill="#fff"/>
<rect x="1081" y="135" width="1" height="12" fill="#000"/>
<rect x="1080" y="140" width="3" height="1" fill="#000"/>
<rect x="1085" y="140" width="1" height="16" fill="#000"/>
<rect x="1084" y="140" width="3" height="13" fill="#000"/>
<rect x="1089" y="133" width="1" height="21" fill="#000"/>
<rect x="1088" y="137" width="3" height="17" fill="#000"/>
<rect x="1089" y="138" width="1" height="15" fill="#fff"/>
<rect x="1093" y="135" width="1" height="25" fill="#000"/>
<rect x="1092" y="136" width="3" height="17" fill="#000"/>
<rect x="1097" y="144" width="1" height="12" fill="#000"/>
<rect x="1096" y="151" width="3" height="2" fill="#000"/>
<rect x="1101" y="140" width="1" height="22" fill="#000"/>
<rect x="1100" y="142" width="3" height="13" fill="#000"/>
<rect x="1101" y="143" width="1" height="11" fill="#fff"/>
<rect x="1105" y="141" width="1" height="25" fill="#000"/>
<rect x="1104" y="143" width="3" height="20" fill="#000"/>
<rect x="1109" y="138" width="1" height="27" fill="#000"/>
<rect x="1108" y="148" width="3" height="16" fill="#000"/>
<rect x="1109" y="149" width="1" height="14" fill="#fff"/>
<rect x="1113" y="145" width="1" height="19" fill="#000"/>
<rect x="1112" y="148" width="3" height="6" fill="#000"/>
<rect x="1117" y="139" width="1" height="29" fill="#000"/>
<rect x="1116" y="152" width="3" height="14" fill="#000"/>
<rect x="1121" y="149" width="1" height="19" fill="#000"/>
<rect x="1120" y="151" width="3" height="16" fill="#000"/>
<rect x="1121" y="152" width="1" height="14" fill="#fff"/>
<rect x="1125" y="149" width="1" height="7" fill="#000"/>
<rect x="1124" y="149" width="3" height="4" fill="#000"/>
<rect x="1125" y="150" width="1" height="2" fill="#fff"/>
<rect x="1129" y="146" width="1" height="7" fill="#000"/>
<rect x="1128" y="148" width="3" height="1" fill="#000"/>
<rect x="1133" y="146" width="1" height="5" fill="#000"/>
<rect x="1132" y="148" width="3" height="1" fill="#000"/>
</g>
<g shape-rendering="crispEdges">
<rect x="0" y="109" width="1309" height="1" fill="#0000ff"/>
<rect x="0" y="241" width="1309" height="1" fill="#0000ff"/>
<rect x="0" y="323" width="1309" height="1" fill="#0000ff"/>
<rect x="0" y="388" width="1309" height="2" fill="#0000ff"/>
<rect x="0" y="455" width="1309" height="1" fill="#0000ff"/>
<rect x="0" y="219" width="1309" height="1" fill="#ff0000"/>
</g>
<polyline points="-2.5,543.0 1.5,543.0 5.5,543.0 9.5,543.0 13.5,515.4 17.5,503.4 21.5,498.8 25.5,515.7 29.5,513.9 33.5,489.2 37.5,496.1 41.5,501.6 45.5,497.9 49.5,511.3 53.5,511.3 57.5,506.5 61.5,509.5 65.5,502.5 69.5,493.3 73.5,493.3 77.5,504.3 81.5,520.9 85.5,508.9 89.5,511.3 93.5,520.0 97.5,541.5 101.5,541.5 105.5,541.5 109.5,526.8 113.5,574.6 117.5,559.6 121.5,547.0 125.5,547.0 129.5,566.9 133.5,564.2 137.5,557.3 141.5,552.2 145.5,548.1 149.5,545.7 153.5,550.7 157.5,555.0 161.5,551.8 165.5,551.8 169.5,548.9 173.5,548.9 177.5,550.7 181.5,543.0 185.5,543.0 189.5,547.6 193.5,546.3 197.5,546.3 201.5,558.6 205.5,563.6 209.5,562.3 213.5,550.3 217.5,544.5 221.5,543.9 225.5,547.0 229.5,544.8 233.5,536.5 237.5,519.1 241.5,509.5 245.5,501.6 249.5,491.1 253.5,493.3 257.5,494.2 261.5,503.4 265.5,510.2 269.5,512.6 273.5,505.3 277.5,497.9 281.5,506.2 285.5,515.0 289.5,512.6 293.5,509.9 297.5,511.7 301.5,521.8 305.5,523.1 309.5,530.1 313.5,524.6 317.5,523.7 321.5,485.9 325.5,485.9 329.5,506.2 333.5,514.5 337.5,520.0 341.5,521.8 345.5,526.1 349.5,514.5 353.5,509.9 357.5,514.5 361.5,519.1 365.5,490.5 369.5,489.6 373.5,480.0 377.5,496.1 381.5,505.8 385.5,506.2 389.5,513.9 393.5,514.5 397.5,524.6 401.5,528.3 405.5,536.5 409.5,544.8 413.5,545.2 417.5,553.7 421.5,553.7 425.5,551.8 429.5,548.5 433.5,541.1 437.5,541.1 441.5,541.5 445.5,548.5 449.5,553.7 453.5,553.7 457.5,545.7 461.5,551.8 465.5,552.2 469.5,587.2 473.5,576.5 477.5,564.2 481.5,559.2 485.5,550.7 489.5,544.8 493.5,539.3 497.5,538.9 501.5,537.8 505.5,533.4 509.5,533.4 513.5,550.3 517.5,558.1 521.5,550.7 525.5,549.4 529.5,532.9 533.5,524.6 537.5,504.0 541.5,529.2 545.5,531.0 549.5,526.1 553.5,533.8 557.5,512.6 561.5,488.7 565.5,477.1 569.5,493.7 573.5,498.8 577.5,499.2 581.5,507.6 585.5,518.7 589.5,511.7 593.5,507.1 597.5,505.3 601.5,505.3 605.5,516.8 609.5,516.5 613.5,513.9 617.5,516.3 621.5,525.5 625.5,528.3 629.5,548.1 633.5,552.2 637.5,518.1 641.5,510.8 645.5,507.1 649.5,519.1 653.5,496.1 657.5,474.9 661.5,496.1 665.5,515.4 669.5,520.9 673.5,520.9 677.5,521.8 681.5,521.8 685.5,527.9 689.5,515.4 693.5,500.3 697.5,497.9 701.5,499.7 705.5,492.9 709.5,498.8 713.5,499.7 717.5,507.1 721.5,513.9 725.5,509.9 729.5,513.9 733.5,518.1 737.5,530.5 741.5,532.9 745.5,530.5 749.5,529.2 753.5,544.5 757.5,555.9 761.5,552.2 765.5,541.1 769.5,528.3 773.5,524.9 777.5,537.5 781.5,561.0 785.5,555.0 789.5,541.1 793.5,529.2 797.5,529.2 801.5,550.3 805.5,569.1 809.5,561.8 813.5,554.0 817.5,546.7 821.5,526.8 825.5,530.5 829.5,501.6 833.5,473.4 837.5,477.6 841.5,496.1 845.5,501.0 849.5,497.0 853.5,497.0 857.5,504.0 861.5,508.9 865.5,511.3 869.5,513.9 873.5,518.1 877.5,515.0 881.5,515.4 885.5,518.7 889.5,520.0 893.5,520.0 897.5,506.2 901.5,497.0 905.5,510.8 909.5,502.9 913.5,505.8 917.5,505.8 921.5,486.8 925.5,492.4 929.5,530.5 933.5,533.4 937.5,552.2 941.5,569.7 945.5,553.1 949.5,532.3 953.5,531.9 957.5,536.5 961.5,532.9 965.5,544.8 969.5,532.9 973.5,541.5 977.5,550.0 981.5,543.9 985.5,544.5 989.5,555.0 993.5,547.6 997.5,540.2 1001.5,547.6 1005.5,545.7 1009.5,537.5 1013.5,521.3 1017.5,492.4 1021.5,485.9 1025.5,493.7 1029.5,496.1 1033.5,498.8 1037.5,501.0 1041.5,506.2 1045.5,513.9 1049.5,508.9 1053.5,504.7 1057.5,507.1 1061.5,511.3 1065.5,516.3 1069.5,527.9 1073.5,531.9 1077.5,523.7 1081.5,523.7 1085.5,548.1 1089.5,528.6 1093.5,547.0 1097.5,548.1 1101.5,540.2 1105.5,557.3 1109.5,542.6 1113.5,549.4 1117.5,556.2 1121.5,548.5 1125.5,534.2 1129.5,526.4 1133.5,522.4" fill="none" stroke="#c0c0c0" stroke-width="2" stroke-linejoin="round" shape-rendering="crispEdges"/>
<polyline points="-2.5,674.6 1.5,674.6 5.5,674.6 9.5,673.1 13.5,668.5 17.5,663.9 21.5,664.9 25.5,668.5 29.5,668.5 33.5,656.9 37.5,660.6 41.5,660.3 45.5,655.1 49.5,661.2 53.5,656.9 57.5,656.9 61.5,656.6 65.5,652.9 69.5,647.4 73.5,645.9 77.5,651.1 81.5,659.9 85.5,651.1 89.5,657.5 93.5,659.3 97.5,665.8 101.5,663.0 105.5,663.6 109.5,659.9 113.5,676.8 117.5,672.2 121.5,668.0 125.5,669.5 129.5,680.5 133.5,683.8 137.5,683.8 141.5,682.7 145.5,682.7 149.5,680.1 153.5,688.8 157.5,691.9 161.5,685.7 165.5,687.5 169.5,684.6 173.5,688.8 177.5,688.8 181.5,682.0 185.5,684.6 189.5,685.1 193.5,684.6 197.5,687.5 201.5,690.6 205.5,693.0 209.5,693.0 213.5,687.0 217.5,687.0 221.5,688.8 225.5,691.9 229.5,685.7 233.5,677.4 237.5,670.6 241.5,669.5 245.5,667.6 249.5,656.6 253.5,654.4 257.5,652.0 261.5,656.2 265.5,658.8 269.5,658.1 273.5,645.5 277.5,641.9 281.5,650.7 285.5,652.9 289.5,652.5 293.5,649.2 297.5,649.2 301.5,654.4 305.5,658.1 309.5,658.1 313.5,653.8 317.5,653.3 321.5,638.5 325.5,642.8 329.5,650.1 333.5,653.8 337.5,653.8 341.5,658.1 345.5,658.1 349.5,647.7 353.5,648.3 357.5,651.4 361.5,655.1 365.5,641.5 369.5,640.9 373.5,631.7 377.5,642.8 381.5,642.8 385.5,640.0 389.5,652.0 393.5,648.3 397.5,656.9 401.5,656.9 405.5,662.5 409.5,663.9 413.5,663.9 417.5,667.3 421.5,667.3 425.5,668.0 429.5,668.0 433.5,663.9 437.5,668.0 441.5,664.9 445.5,674.1 449.5,672.2 453.5,673.1 457.5,666.7 461.5,672.8 465.5,673.1 469.5,687.0 473.5,685.7 477.5,689.3 481.5,690.6 485.5,683.3 489.5,682.9 493.5,682.9 497.5,682.9 501.5,680.1 505.5,678.3 509.5,682.7 513.5,684.6 517.5,689.3 521.5,685.7 525.5,685.1 529.5,676.8 533.5,672.2 537.5,667.3 541.5,675.9 545.5,675.9 549.5,670.9 553.5,674.6 557.5,663.9 561.5,653.8 565.5,645.9 569.5,652.0 573.5,650.1 577.5,646.5 581.5,653.8 585.5,663.0 589.5,650.7 593.5,650.1 597.5,647.0 601.5,648.8 605.5,658.8 609.5,653.8 613.5,652.9 617.5,653.3 621.5,658.4 625.5,658.1 629.5,664.9 633.5,663.6 637.5,653.8 641.5,654.7 645.5,652.9 649.5,656.2 653.5,649.2 657.5,642.8 661.5,652.9 665.5,656.9 669.5,656.9 673.5,656.9 677.5,656.9 681.5,654.7 685.5,658.8 689.5,653.3 693.5,648.3 697.5,647.7 701.5,645.5 705.5,639.6 709.5,639.1 713.5,639.1 717.5,643.3 721.5,644.6 725.5,640.0 729.5,647.4 733.5,652.9 737.5,658.8 741.5,654.7 745.5,652.9 749.5,655.7 753.5,657.5 757.5,661.7 761.5,661.7 765.5,656.9 769.5,656.2 773.5,659.9 777.5,660.3 781.5,666.2 785.5,666.7 789.5,660.3 793.5,659.9 797.5,658.4 801.5,669.1 805.5,674.1 809.5,674.1 813.5,674.1 817.5,669.8 821.5,665.4 825.5,662.5 829.5,650.7 833.5,637.8 837.5,636.3 841.5,645.9 845.5,640.0 849.5,633.6 853.5,629.0 857.5,639.6 861.5,640.0 865.5,640.0 869.5,642.2 873.5,644.6 877.5,640.0 881.5,643.7 885.5,644.1 889.5,647.0 893.5,644.1 897.5,644.1 901.5,644.1 905.5,642.8 909.5,642.8 913.5,642.8 917.5,641.5 921.5,634.9 925.5,642.0 929.5,654.7 933.5,655.1 937.5,663.9 941.5,669.8 945.5,662.5 949.5,655.7 953.5,659.9 957.5,659.9 961.5,658.1 965.5,668.0 969.5,658.1 973.5,669.1 977.5,669.1 981.5,667.3 985.5,668.5 989.5,670.9 993.5,668.5 997.5,668.5 1001.5,673.1 1005.5,668.5 1009.5,668.0 1013.5,661.2 1017.5,652.5 1021.5,649.2 1025.5,648.3 1029.5,644.1 1033.5,643.7 1037.5,639.1 1041.5,649.6 1045.5,651.1 1049.5,643.7 1053.5,640.9 1057.5,642.8 1061.5,643.3 1065.5,652.0 1069.5,656.9 1073.5,656.9 1077.5,653.3 1081.5,652.0 1085.5,662.1 1089.5,652.9 1093.5,663.0 1097.5,663.0 1101.5,658.1 1105.5,669.5 1109.5,662.1 1113.5,664.3 1117.5,669.8 1121.5,662.5 1125.5,662.1 1129.5,661.2 1133.5,661.2" fill="none" stroke="#1e90ff" stroke-width="2" stroke-linejoin="round" shape-rendering="crispEdges"/>
<polyline points="113.6,574.3 205.3,564.7 468,588.5 517.5,560.8" fill="none" stroke="#7fff00" stroke-width="2" shape-rendering="crispEdges"/>
<polyline points="833.5,473 922,486.8" fill="none" stroke="#7fff00" stroke-width="2" shape-rendering="crispEdges"/>
<g shape-rendering="crispEdges" fill="#000">
<rect x="0" y="2" width="1310" height="1"/>
<rect x="0" y="463" width="1310" height="1"/>
<rect x="0" y="465" width="1310" height="1"/>
<rect x="0" y="595" width="1310" height="1"/>
<rect x="0" y="597" width="1310" height="1"/>
<rect x="0" y="729" width="1310" height="1"/>
<rect x="1309" y="2" width="1" height="462"/>
<rect x="1309" y="465" width="1" height="131"/>
<rect x="1309" y="597" width="1" height="133"/>
<rect x="1308" y="253" width="3" height="48"/>
<rect x="1310" y="27" width="2" height="1"/>
<rect x="1310" y="60" width="2" height="1"/>
<rect x="1310" y="96" width="2" height="1"/>
<rect x="1310" y="129" width="2" height="1"/>
<rect x="1310" y="162" width="2" height="1"/>
<rect x="1310" y="195" width="2" height="1"/>
<rect x="1310" y="228" width="2" height="1"/>
<rect x="1310" y="261" width="2" height="1"/>
<rect x="1310" y="294" width="2" height="1"/>
<rect x="1310" y="327" width="2" height="1"/>
<rect x="1310" y="360" width="2" height="1"/>
<rect x="1310" y="393" width="2" height="1"/>
<rect x="1310" y="426" width="2" height="1"/>
<rect x="1310" y="459" width="2" height="1"/>
<rect x="1310" y="467" width="1" height="1"/>
<rect x="1310" y="528" width="1" height="1"/>
<rect x="1310" y="594" width="1" height="1"/>
<rect x="1310" y="599" width="1" height="1"/>
<rect x="1310" y="624" width="1" height="1"/>
<rect x="1310" y="702" width="1" height="1"/>
<rect x="1310" y="727" width="1" height="1"/>
<rect x="13" y="730" width="1" height="3"/>
<rect x="77" y="730" width="1" height="3"/>
<rect x="141" y="730" width="1" height="3"/>
<rect x="205" y="730" width="1" height="3"/>
<rect x="269" y="730" width="1" height="3"/>
<rect x="333" y="730" width="1" height="3"/>
<rect x="397" y="730" width="1" height="3"/>
<rect x="461" y="730" width="1" height="3"/>
<rect x="525" y="730" width="1" height="3"/>
<rect x="589" y="730" width="1" height="3"/>
<rect x="653" y="730" width="1" height="3"/>
<rect x="717" y="730" width="1" height="3"/>
<rect x="781" y="730" width="1" height="3"/>
<rect x="845" y="730" width="1" height="3"/>
<rect x="909" y="730" width="1" height="3"/>
<rect x="973" y="730" width="1" height="3"/>
<rect x="1037" y="730" width="1" height="3"/>
<rect x="1101" y="730" width="1" height="3"/>
</g>
<text x="1315.7" y="31">1.1942</text>
<text x="1315.7" y="64">1.1897</text>
<text x="1315.7" y="100">1.1847</text>
<text x="1315.7" y="133">1.1802</text>
<text x="1315.7" y="166">1.1757</text>
<text x="1315.7" y="199">1.1712</text>
<text x="1315.7" y="232">1.1667</text>
<text x="1315.7" y="265">1.1622</text>
<text x="1315.7" y="298">1.1577</text>
<text x="1315.7" y="331">1.1532</text>
<text x="1315.7" y="364">1.1487</text>
<text x="1315.7" y="397">1.1442</text>
<text x="1315.7" y="430">1.1397</text>
<text x="1315.7" y="463">1.1352</text>
<text x="1313.3" y="476">301.8242</text>
<text x="1313.3" y="532">0.00</text>
<text x="1313.3" y="592">-328.5513</text>
<text x="1313.3" y="608">100</text>
<text x="1313.3" y="628">80</text>
<text x="1313.3" y="706">20</text>
<text x="1313.3" y="726">0</text>
<g shape-rendering="crispEdges">
<rect x="1311" y="103" width="36" height="11" fill="#0000ff"/>
<rect x="1311" y="142" width="36" height="11" fill="#000000"/>
<rect x="1311" y="213" width="36" height="11" fill="#ff0000"/>
<rect x="1311" y="235" width="36" height="11" fill="#0000ff"/>
<rect x="1311" y="317" width="36" height="11" fill="#0000ff"/>
<rect x="1311" y="382" width="36" height="11" fill="#0000ff"/>
<rect x="1311" y="449" width="36" height="11" fill="#0000ff"/>
</g>
<text x="1315.7" y="112" class="w">1.1829</text>
<text x="1315.7" y="151" class="w">1.1776</text>
<text x="1315.7" y="222" class="w">1.1680</text>
<text x="1315.7" y="244" class="w">1.1649</text>
<text x="1315.7" y="326" class="w">1.1538</text>
<text x="1315.7" y="391" class="w">1.1448</text>
<text x="1315.7" y="458" class="w">1.1358</text>
<text x="1308" y="107" text-anchor="end" class="bl">0.0</text>
<text x="1308" y="239" text-anchor="end" class="bl">23.6</text>
<text x="1308" y="321" text-anchor="end" class="bl">38.2</text>
<text x="1308" y="386" text-anchor="end" class="bl">50.0</text>
<text x="1308" y="453" text-anchor="end" class="bl">61.8</text>
<text y="14"><tspan x="-1.2">1780</tspan> <tspan x="22.6">1.1774</tspan> <tspan x="53.4">1.1776</tspan></text>
<text x="12.5" y="742" textLength="53.0" lengthAdjust="spacingAndGlyphs">23 Oct 16:00</text>
<text x="76.5" y="742" textLength="53.0" lengthAdjust="spacingAndGlyphs">28 Oct 08:00</text>
<text x="140.5" y="742" textLength="53.0" lengthAdjust="spacingAndGlyphs">31 Oct 00:00</text>
<text x="204.5" y="742" textLength="51.3" lengthAdjust="spacingAndGlyphs">4 Nov 16:00</text>
<text x="268.5" y="742" textLength="51.3" lengthAdjust="spacingAndGlyphs">7 Nov 08:00</text>
<text x="332.5" y="742" textLength="56.3" lengthAdjust="spacingAndGlyphs">12 Nov 00:00</text>
<text x="396.5" y="742" textLength="56.3" lengthAdjust="spacingAndGlyphs">14 Nov 16:00</text>
<text x="460.5" y="742" textLength="56.3" lengthAdjust="spacingAndGlyphs">19 Nov 08:00</text>
<text x="524.5" y="742" textLength="56.3" lengthAdjust="spacingAndGlyphs">24 Nov 00:00</text>
<text x="588.5" y="742" textLength="56.3" lengthAdjust="spacingAndGlyphs">26 Nov 16:00</text>
<text x="652.5" y="742" textLength="49.3" lengthAdjust="spacingAndGlyphs">1 Dec 08:00</text>
<text x="716.5" y="742" textLength="49.3" lengthAdjust="spacingAndGlyphs">4 Dec 00:00</text>
<text x="780.5" y="742" textLength="49.3" lengthAdjust="spacingAndGlyphs">8 Dec 16:00</text>
<text x="844.5" y="742" textLength="53.8" lengthAdjust="spacingAndGlyphs">11 Dec 08:00</text>
<text x="908.5" y="742" textLength="53.8" lengthAdjust="spacingAndGlyphs">16 Dec 00:00</text>
<text x="972.5" y="742" textLength="53.8" lengthAdjust="spacingAndGlyphs">18 Dec 16:00</text>
<text x="1036.5" y="742" textLength="53.8" lengthAdjust="spacingAndGlyphs">23 Dec 08:00</text>
<text x="1100.5" y="742" textLength="53.8" lengthAdjust="spacingAndGlyphs">29 Dec 00:00</text>
<text x="5.5" y="742" text-anchor="end">20 Oct 00:00</text>
<g>
<rect x="0" y="705" width="180" height="45" fill="rgb(100,100,100)" fill-opacity="0.745" shape-rendering="crispEdges"/>
<polygon points="21.59,710.60 21.88,707.73 26.12,707.73 26.41,710.60 29.11,711.32 30.80,708.98 34.47,711.10 33.29,713.73 35.27,715.71 37.90,714.53 40.02,718.20 37.68,719.89 38.40,722.59 41.27,722.88 41.27,727.12 38.40,727.41 37.68,730.11 40.02,731.80 37.90,735.47 35.27,734.29 33.29,736.27 34.47,738.90 30.80,741.02 29.11,738.68 26.41,739.40 26.12,742.27 21.88,742.27 21.59,739.40 18.89,738.68 17.20,741.02 13.53,738.90 14.71,736.27 12.73,734.29 10.10,735.47 7.98,731.80 10.32,730.11 9.60,727.41 6.73,727.12 6.73,722.88 9.60,722.59 10.32,719.89 7.98,718.20 10.10,714.53 12.73,715.71 14.71,713.73 13.53,711.10 17.20,708.98 18.89,711.32" fill="#fff"/>
<circle cx="24.0" cy="725.0" r="14.799999999999999" fill="#fff"/>
<clipPath id="gc"><circle cx="24" cy="725" r="10.7"/></clipPath>
<g clip-path="url(#gc)"><path d="M12.0,717.3 L20.6,724.6 L20.6,745" fill="none" stroke="rgb(140,140,140)" stroke-width="3.1" stroke-linejoin="miter"/>
<path d="M36.0,717.3 L27.4,724.6 L27.4,745" fill="none" stroke="rgb(140,140,140)" stroke-width="3.1" stroke-linejoin="miter"/></g>
<circle cx="24" cy="718" r="3.1" fill="rgb(140,140,140)"/>
<text x="48.8" y="733.6" style="font-size:32.8px;fill:#fff;stroke:rgb(140,140,140);stroke-width:0.7px" textLength="124" lengthAdjust="spacingAndGlyphs">instaforex</text>
<text x="48.8" y="744.3" style="font-size:10.4px;fill:#fff;stroke:none" textLength="100.3" lengthAdjust="spacingAndGlyphs">Instant Forex Trading</text>
</g>
</svg></body></html>
